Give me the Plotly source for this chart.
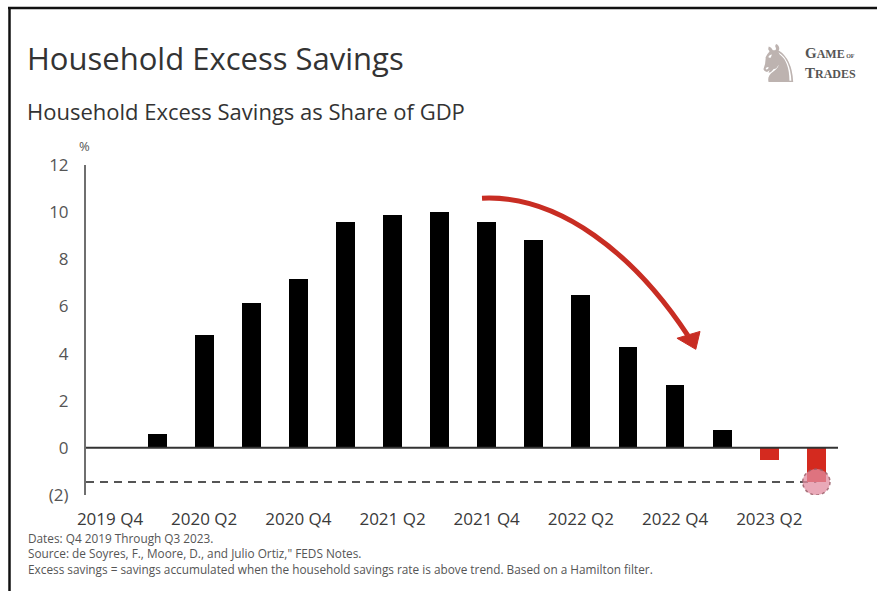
import plotly.graph_objects as go

# Quarterly household excess savings, % of GDP
quarters = ["2019 Q4", "2020 Q1", "2020 Q2", "2020 Q3", "2020 Q4",
            "2021 Q1", "2021 Q2", "2021 Q3", "2021 Q4",
            "2022 Q1", "2022 Q2", "2022 Q3", "2022 Q4",
            "2023 Q1", "2023 Q2", "2023 Q3"]
excess_pct = [0.0, 0.6, 4.8, 6.15, 7.15, 9.6, 9.9, 10.0, 9.6,
              8.8, 6.5, 4.3, 2.65, 0.75, -0.5, -1.45]

shown_quarters = ["2019 Q4", "2020 Q2", "2020 Q4", "2021 Q2",
                  "2021 Q4", "2022 Q2", "2022 Q4", "2023 Q2"]
y_ticks = [-2, 0, 2, 4, 6, 8, 10, 12]
y_tick_text = ["(2)", "0", "2", "4", "6", "8", "10", "12"]

notes = [
    "Dates: Q4 2019 Through Q3 2023.",
    "Source: de Soyres, F., Moore, D., and Julio Ortiz,\" FEDS Notes.",
    "Excess savings = savings accumulated when the household savings rate is above trend. "
    "Based on a Hamilton filter.",
]

W, H = 877, 591
L, R, T, B = 86, 39, 165, 96
x_range = [-0.51, 15.46]
y_range = [-2, 12]

FONT = "Open Sans"

idx = list(range(len(quarters)))
colors = ["#000000" if v >= 0 else "#d42a1f" for v in excess_pct]


def px(xp):
    return (xp - L) / (W - L - R)


def py(yp):
    return (H - B - yp) / (H - T - B)


fig = go.Figure()
fig.add_trace(go.Bar(
    x=idx, y=excess_pct, width=0.4,
    marker=dict(color=colors, line=dict(width=0)),
    hoverinfo="skip",
))

trough = excess_pct[-1]
last = idx[-1]

shapes = [
    # zero baseline
    dict(type="line", xref="paper", yref="y", x0=0, x1=1, y0=0, y1=0,
         line=dict(color="#333333", width=2), layer="above"),
    # dashed level at the latest reading
    dict(type="line", xref="x", yref="y", x0=x_range[0], x1=last, y0=trough, y1=trough,
         line=dict(color="#555555", width=2, dash="8px,6px"), layer="below"),
    # highlight on the latest bar
    dict(type="circle", xref="x", yref="y",
         x0=last - 0.29, x1=last + 0.29, y0=trough - 0.55, y1=trough + 0.55,
         fillcolor="rgba(225,140,160,0.75)",
         line=dict(color="rgba(150,90,100,0.8)", width=1.5, dash="dot"), layer="above"),
    # downward trend arrow
    dict(type="path", xref="x", yref="y",
         path="M 7.90 10.59 C 9.55 10.75, 11.15 8.17, 12.27 4.77",
         line=dict(color="rgb(200,45,35)", width=5), layer="above"),
    dict(type="path", xref="x", yref="y",
         path="M 12.44 4.18 L 12.53 4.94 L 12.04 4.65 Z",
         fillcolor="rgb(200,45,35)", line=dict(color="rgb(200,45,35)", width=1), layer="above"),
    # outer frame
    dict(type="line", xref="paper", yref="paper", x0=px(8), x1=px(877), y0=py(8), y1=py(8),
         line=dict(color="#111111", width=2.5)),
    dict(type="line", xref="paper", yref="paper", x0=px(9.5), x1=px(9.5), y0=py(8), y1=py(600),
         line=dict(color="#111111", width=2.5)),
]

annotations = [
    dict(text="Household Excess Savings", x=px(25), y=py(58), xanchor="left", yanchor="middle",
         font=dict(family=FONT, size=31, color="#333333")),
    dict(text="Household Excess Savings as Share of GDP", x=px(25), y=py(111),
         xanchor="left", yanchor="middle",
         font=dict(family=FONT, size=22, color="#333333")),
    dict(text="%", x=px(84), y=py(146), xanchor="center", yanchor="middle",
         font=dict(family=FONT, size=13, color="#555555")),
    # logo
    dict(text="\u265e", x=px(778), y=py(64), xanchor="center", yanchor="middle",
         font=dict(family="DejaVu Sans", size=52, color="#bdb3b0")),
    dict(text="<b>G<span style='font-size:12px'>AME</span><span style='font-size:6px'> OF</span><br>"
              "T<span style='font-size:12px'>RADES</span></b>",
         x=px(803), y=py(63), xanchor="left", yanchor="middle", align="left",
         font=dict(family="Liberation Serif", size=15, color="#555555")),
    dict(text="g", x=px(843), y=py(-3), xanchor="center", yanchor="bottom",
         font=dict(family="DejaVu Sans", size=26, color="#2f5d9e")),
    # source notes
    dict(text="<br>".join(notes), x=px(26), y=py(553), xanchor="left",
         yanchor="middle", align="left",
         font=dict(family=FONT, size=11.8, color="#555555")),
]
for a in annotations:
    a.update(xref="paper", yref="paper", showarrow=False)

fig.update_layout(
    width=W, height=H,
    margin=dict(l=L, r=R, t=T, b=B),
    paper_bgcolor="white", plot_bgcolor="white",
    showlegend=False,
    shapes=shapes, annotations=annotations,
    bargap=0,
    xaxis=dict(
        range=x_range, tickmode="array",
        tickvals=[quarters.index(q) for q in shown_quarters], ticktext=shown_quarters,
        showgrid=False, zeroline=False, showline=False, ticks="",
        ticklabelstandoff=12,
        tickfont=dict(family=FONT, size=17, color="#3a3a3a"),
    ),
    yaxis=dict(
        range=y_range, tickmode="array", tickvals=y_ticks, ticktext=y_tick_text,
        showgrid=False, zeroline=False, showline=True, linecolor="#6f6f6f", linewidth=2,
        ticks="", ticklabelstandoff=12,
        tickfont=dict(family=FONT, size=17, color="#555555"),
    ),
)

fig.write_html("out.html")
